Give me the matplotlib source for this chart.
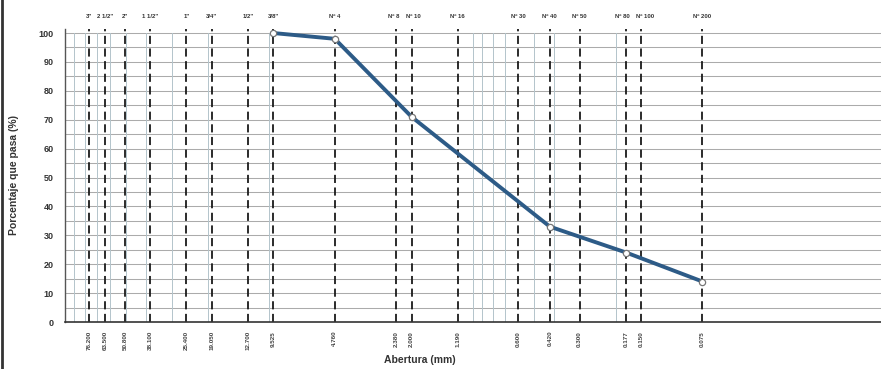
import matplotlib
matplotlib.use("Agg")
import matplotlib.pyplot as plt
from matplotlib.ticker import NullLocator, FixedLocator

plt.rcParams['font.family'] = ['Liberation Sans', 'DejaVu Sans']

# Sieve series (top labels) and openings in mm (bottom labels)
sieve_names = ['3"', '2 1/2"', '2"', '1 1/2"', '1"', '3/4"', '1/2"', '3/8"',
               'Nº 4', 'Nº 8', 'Nº 10', 'Nº 16', 'Nº 30', 'Nº 40', 'Nº 50',
               'Nº 80', 'Nº 100', 'Nº 200']
sieve_mm = [76.200, 63.500, 50.800, 38.100, 25.400, 19.050, 12.700, 9.525,
            4.760, 2.380, 2.000, 1.190, 0.600, 0.420, 0.300,
            0.177, 0.150, 0.075]
sieve_mm_labels = ['76.200', '63.500', '50.800', '38.100', '25.400', '19.050',
                   '12.700', '9.525', '4.760', '2.380', '2.000', '1.190',
                   '0.600', '0.420', '0.300', '0.177', '0.150', '0.075']

# Grading curve (opening mm, % passing)
curve_mm = [9.525, 4.760, 2.000, 0.420, 0.177, 0.075]
curve_pass = [100, 98, 71, 33, 24, 14]

# light log minor grid lines present on the sheet
minor_mm = [90, 80, 70, 60, 50, 40, 30, 20, 10, 1.0, 0.9, 0.8, 0.7, 0.5, 0.4, 0.2]

y_ticks = list(range(0, 101, 10))
y_grid = list(range(5, 101, 5))

fig = plt.figure(figsize=(8.81, 3.69), dpi=100)
ax = fig.add_axes([65/881, 1 - 322/369, 1 - 65/881, (322 - 28.7)/369])
ax.set_xscale('log')
ax.set_xlim(100, 0.01)
ax.set_ylim(0, 101.5)

for y in y_grid:
    ax.axhline(y, color='#ababab', lw=0.75, zorder=1)
for m in minor_mm:
    ax.axvline(m, ymax=100/101.5, color='#b3c4cb', lw=0.7, zorder=1)
for m in sieve_mm:
    ax.axvline(m, color='#1a1a1a', lw=1.3, ls=(0, (4.5, 2.5)), zorder=2)

ax.plot(curve_mm, curve_pass, color='#2d5b87', lw=2.8, zorder=4,
        solid_capstyle='round')
ax.plot(curve_mm, curve_pass, ls='none', marker='o', ms=4.5,
        mfc='white', mec='#777777', mew=0.9, zorder=5)

ax.xaxis.set_major_locator(NullLocator())
ax.xaxis.set_minor_locator(NullLocator())
ax.yaxis.set_major_locator(FixedLocator(y_ticks))
ax.set_yticklabels([str(v) for v in y_ticks], fontsize=6.5, fontweight='bold',
                   color='#333333')
ax.tick_params(axis='y', length=0, pad=8)

for s in ['top', 'right']:
    ax.spines[s].set_visible(False)
ax.spines['left'].set_color('#555555')
ax.spines['left'].set_linewidth(1.0)
ax.spines['bottom'].set_color('#333333')
ax.spines['bottom'].set_linewidth(1.2)

tr = ax.get_xaxis_transform()
# small horizontal nudges (points) for crowded top labels
nudge = {'Nº 8': -1.5, 'Nº 10': 1.5, 'Nº 80': -3.0, 'Nº 100': 3.0}
for name, mm, lab in zip(sieve_names, sieve_mm, sieve_mm_labels):
    ax.annotate(name, xy=(mm, 1.04), xycoords=tr,
                xytext=(nudge.get(name, 0), 0), textcoords='offset points',
                ha='center', va='center', fontsize=4.3, fontweight='bold',
                color='#333333')
    ax.text(mm, -0.03, lab, transform=tr, ha='center', va='top',
            rotation=90, fontsize=4.5, fontweight='bold', color='#444444')

ax.set_ylabel('Porcentaje que pasa (%)', fontsize=7.5, fontweight='bold',
              color='#333333', labelpad=14)
fig.text(420/881, 1 - 360/369, 'Abertura (mm)', ha='center', va='center',
         fontsize=7.5, fontweight='bold', color='#333333')

# scan border at the left edge
fig.add_artist(plt.Line2D([0.002, 0.002], [0.0, 1.0], color='#333333', lw=2,
                          transform=fig.transFigure))

fig.savefig('out.png', dpi=100)
